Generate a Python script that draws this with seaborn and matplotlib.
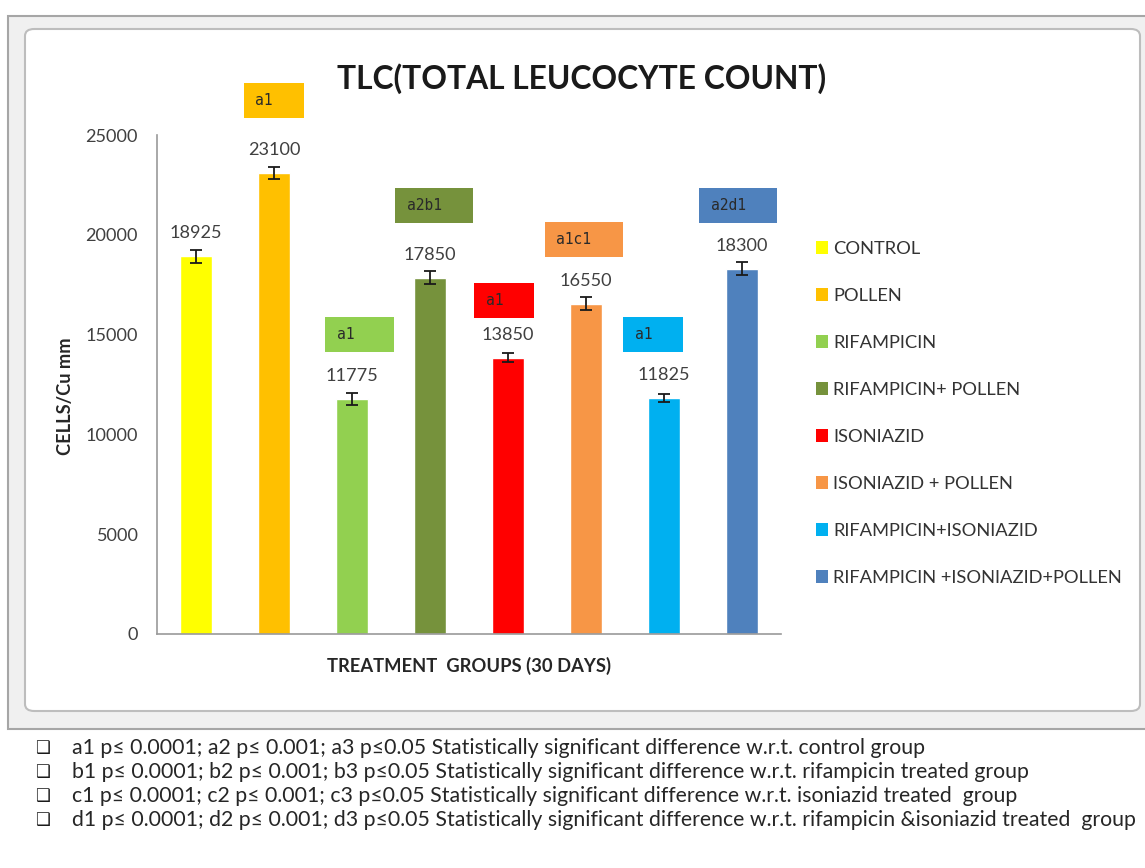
import numpy as np
import pandas as pd
import matplotlib
matplotlib.use("Agg")
import matplotlib.pyplot as plt
import seaborn as sns
from matplotlib.patches import Rectangle, FancyBboxPatch
from matplotlib import font_manager as fm

# ---------------- data ----------------
groups = ["CONTROL", "POLLEN", "RIFAMPICIN", "RIFAMPICIN+ POLLEN", "ISONIAZID",
          "ISONIAZID + POLLEN", "RIFAMPICIN+ISONIAZID", "RIFAMPICIN +ISONIAZID+POLLEN"]
values = [18925, 23100, 11775, 17850, 13850, 16550, 11825, 18300]
errors = [330, 300, 280, 330, 230, 330, 200, 330]
sig_labels = ["", "a1", "a1", "a2b1", "a1", "a1c1", "a1", "a2d1"]
colors = ["#FFFF00", "#FFC000", "#92D050", "#76923C", "#FF0000", "#F79646", "#00B0F0", "#4F81BD"]
yticks = [0, 5000, 10000, 15000, 20000, 25000]
title = "TLC(TOTAL LEUCOCYTE COUNT)"
xlabel = "TREATMENT  GROUPS (30 DAYS)"
ylabel = "CELLS/Cu mm"
footnotes = [
    "a1 p\u2264 0.0001; a2 p\u2264 0.001; a3 p\u22640.05 Statistically significant difference w.r.t. control group",
    "b1 p\u2264 0.0001; b2 p\u2264 0.001; b3 p\u22640.05 Statistically significant difference w.r.t. rifampicin treated group",
    "c1 p\u2264 0.0001; c2 p\u2264 0.001; c3 p\u22640.05 Statistically significant difference w.r.t. isoniazid treated  group",
    "d1 p\u2264 0.0001; d2 p\u2264 0.001; d3 p\u22640.05 Statistically significant difference w.r.t. rifampicin &isoniazid treated  group",
]

# ---------------- layout (pixels of 1145x868 canvas) ----------------
W_PX, H_PX = 1145, 868
AX_L, AX_R, AX_T, AX_B = 157, 781, 135, 634
sig_y = [0, 26750, 14980, 21490, 16730, 19740, 14980, 21490]
sig_dx = [0, 0.0, 0.10, 0.05, -0.05, -0.03, -0.14, -0.05]
sig_w = [0, 0.78, 0.88, 1.0, 0.76, 1.0, 0.77, 1.0]
SIG_H_PX = 35

sns.set_style("white")
avail = {f.name for f in fm.fontManager.ttflist}
MAIN = "Lato" if "Lato" in avail else "DejaVu Sans"
plt.rcParams["font.family"] = [MAIN, "DejaVu Sans"]


def fx(x):
    return x / W_PX


def fy(y):
    return 1 - y / H_PX


fig = plt.figure(figsize=(W_PX / 100, H_PX / 100), dpi=100)
fig.patch.set_facecolor("white")
renderer = fig.canvas.get_renderer()


def fit_size(s, target, size=14, **kw):
    t = fig.text(0, 0, s, fontsize=size, **kw)
    w = t.get_window_extent(renderer).width
    t.remove()
    return size * target / w


# Excel-like chart frame
outer = Rectangle((fx(8), fy(729)), fx(1150 - 8), (729 - 16) / H_PX, transform=fig.transFigure,
                  facecolor="#f0f0f0", edgecolor="#a6a6a6", lw=1.5, zorder=-20)
fig.patches.append(outer)
inner = FancyBboxPatch((fx(25), fy(711)), fx(1140 - 25), (711 - 29) / H_PX,
                       boxstyle="round,pad=0,rounding_size=0.008", transform=fig.transFigure,
                       facecolor="white", edgecolor="#bdbdbd", lw=1.5, zorder=-10)
fig.patches.append(inner)

ax = fig.add_axes([fx(AX_L), fy(AX_B), fx(AX_R - AX_L), (AX_B - AX_T) / H_PX])
ax.set_facecolor("none")

df = pd.DataFrame({"group": groups, "value": values})
sns.barplot(data=df, x="group", y="value", hue="group", palette=colors, width=0.42,
            errorbar=None, saturation=1, legend=True, ax=ax)
pos = np.arange(len(groups))
ax.errorbar(pos, values, yerr=errors, fmt="none", ecolor="#1a1a1a", elinewidth=1.3,
            capsize=4.5, capthick=1.3, zorder=4)

ax.set_xlim(-0.5, 7.5)
ax.set_ylim(0, 25000)
ax.set_yticks(yticks)
ax.set_xticks([])
sns.despine(ax=ax)
for s in ["left", "bottom"]:
    ax.spines[s].set_color("#9a9a9a")
    ax.spines[s].set_linewidth(1.2)
num_fs = fit_size("25000", 53)
ax.tick_params(axis="y", direction="out", length=6, width=1.2, color="#9a9a9a",
               labelcolor="#404040", labelsize=num_fs, pad=8)

# value labels
for i, v in enumerate(values):
    ax.annotate(f"{v}", (i, v), xytext=(0, 16.5), textcoords="offset points",
                ha="center", va="center", fontsize=num_fs, color="#404040")

# significance boxes
px_per_unit = (AX_B - AX_T) / 25000.0
sig_h = SIG_H_PX / px_per_unit
for i, lab in enumerate(sig_labels):
    if not lab:
        continue
    xc = i + sig_dx[i]
    rect = Rectangle((xc - sig_w[i] / 2, sig_y[i] - sig_h / 2), sig_w[i], sig_h,
                     facecolor=colors[i], edgecolor="none", clip_on=False, zorder=3)
    ax.add_patch(rect)
    ax.text(xc - sig_w[i] / 2 + 0.15, sig_y[i], lab, ha="left", va="center",
            family="DejaVu Sans Mono", fontsize=10.5, color="#2a2a2a", clip_on=False, zorder=4)

# axis labels
xl_fs = fit_size(xlabel, 285, weight="bold")
ax.set_xlabel(xlabel, fontsize=xl_fs, weight="bold", color="#262626", va="center")
ax.xaxis.set_label_coords(0.5, -(666 - AX_B) / (AX_B - AX_T))
yl_fs = fit_size(ylabel, 118, weight="bold")
ax.set_ylabel(ylabel, fontsize=yl_fs, weight="bold", color="#262626", va="center")
ax.yaxis.set_label_coords(-(AX_L - 65) / (AX_R - AX_L), (AX_B - 396) / (AX_B - AX_T))

# legend
leg_fs = fit_size(groups[-1], 290)
leg_px = leg_fs * 100 / 72
sns.move_legend(ax, "upper left", bbox_to_anchor=(fx(816), fy(252 - 0.6 * leg_px)),
                bbox_transform=fig.transFigure, frameon=False, title=None, fontsize=leg_fs,
                handlelength=12 / leg_px, handleheight=12 / leg_px,
                handletextpad=5 / leg_px, labelspacing=(53.0 - 1.2 * leg_px) / leg_px,
                borderpad=0, borderaxespad=0)
leg = ax.get_legend()
for t in leg.get_texts():
    t.set_color("#333333")
for h in leg.legend_handles:
    h.set_edgecolor("none")

# title
t_fs = fit_size(title, 490, weight="bold")
fig.text(fx(582), fy(79), title, ha="center", va="center", fontsize=t_fs, weight="bold",
         color="#1a1a1a")

# footnotes
fn_fs = fit_size(footnotes[3], 1140 - 72)
for k, line in enumerate(footnotes):
    y = 748 + 24 * k
    fig.text(fx(42), fy(y), "\u2751", ha="center", va="center", fontsize=12,
             family="DejaVu Sans", color="#1a1a1a")
    fig.text(fx(72), fy(y), line, ha="left", va="center", fontsize=fn_fs, color="#262626")

fig.savefig("out.png", dpi=100, facecolor="white")
